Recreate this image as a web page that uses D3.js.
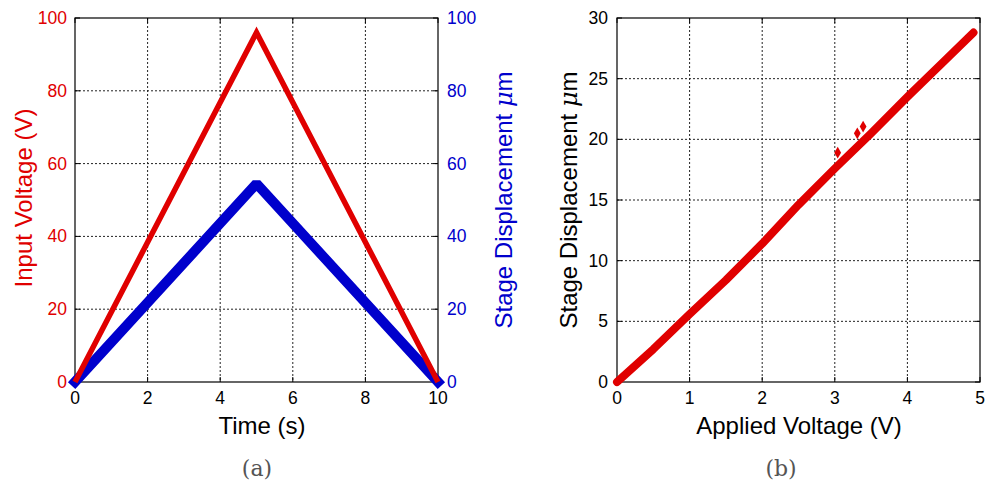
<!DOCTYPE html>
<html>
<head>
<meta charset="utf-8">
<script src="https://cdn.jsdelivr.net/npm/d3@7"></script>
<style>
  body { margin: 0; background: #fff; }
  svg { font-family: "Liberation Sans", Arial, sans-serif; }
</style>
</head>
<body>
<script>
// (a) triangle ramp: time vs input voltage and stage displacement
const time = [0, 5, 10];
const inputVoltage = [0, 96, 0];
const stageDisp = [0, 54.5, 0];
const timeTicks = [0, 2, 4, 6, 8, 10];
const voltTicks = [0, 20, 40, 60, 80, 100];

// (b) applied voltage vs displacement
const appliedV = [0, 0.5, 1, 1.5, 2, 2.5, 3, 3.5, 4, 4.5, 4.91];
const dispUm = [0, 2.7, 5.6, 8.4, 11.4, 14.6, 17.6, 20.5, 23.5, 26.4, 28.8];
const outlierV = [3.04, 3.31, 3.39];
const outlierD = [18.9, 20.5, 21.05];
const appliedTicks = [0, 1, 2, 3, 4, 5];
const dispTicks = [0, 5, 10, 15, 20, 25, 30];

const red = '#e00000';
const blue = '#0000cc';
const serif = '"DejaVu Serif", "Liberation Serif", serif';

const svg = d3.select('body').append('svg')
    .attr('width', 987)
    .attr('height', 488);

const plotTop = 18, plotBottom = 382;

// helper: frame, dotted grid and inward ticks
function drawFrame(g, x, y, xTicks, yTicks) {
    const [x0, x1] = x.range();
    g.selectAll('.vgrid').data(xTicks.slice(1, -1)).enter().append('line')
        .attr('x1', d => x(d)).attr('x2', d => x(d))
        .attr('y1', plotTop).attr('y2', plotBottom)
        .attr('stroke', '#222').attr('stroke-width', 1).attr('stroke-dasharray', '2,2');
    g.selectAll('.hgrid').data(yTicks.slice(1, -1)).enter().append('line')
        .attr('x1', x0).attr('x2', x1)
        .attr('y1', d => y(d)).attr('y2', d => y(d))
        .attr('stroke', '#222').attr('stroke-width', 1).attr('stroke-dasharray', '2,2');
    // inward ticks on all four sides
    xTicks.forEach(t => {
        g.append('line').attr('x1', x(t)).attr('x2', x(t)).attr('y1', plotBottom).attr('y2', plotBottom - 5).attr('stroke', '#000');
        g.append('line').attr('x1', x(t)).attr('x2', x(t)).attr('y1', plotTop).attr('y2', plotTop + 5).attr('stroke', '#000');
    });
    yTicks.forEach(t => {
        g.append('line').attr('x1', x0).attr('x2', x0 + 5).attr('y1', y(t)).attr('y2', y(t)).attr('stroke', '#000');
        g.append('line').attr('x1', x1).attr('x2', x1 - 5).attr('y1', y(t)).attr('y2', y(t)).attr('stroke', '#000');
    });
    g.append('rect')
        .attr('x', x0).attr('y', plotTop)
        .attr('width', x1 - x0).attr('height', plotBottom - plotTop)
        .attr('fill', 'none').attr('stroke', '#000').attr('stroke-width', 1.2);
    // x tick labels
    g.selectAll('.xlab').data(xTicks).enter().append('text')
        .attr('x', d => x(d)).attr('y', plotBottom + 22)
        .attr('text-anchor', 'middle').attr('font-size', 17.5)
        .text(d => d);
}

// ---------- panel (a) ----------
const ax = d3.scaleLinear().domain([0, 10]).range([75, 438]);
const ay = d3.scaleLinear().domain([0, 100]).range([plotBottom, plotTop]);
const ga = svg.append('g');
drawFrame(ga, ax, ay, timeTicks, voltTicks);

const lineA = (vals) => d3.line().x((d, i) => ax(time[i])).y(d => ay(d))(vals);

ga.append('path')
    .attr('d', lineA(stageDisp))
    .attr('fill', 'none').attr('stroke', blue)
    .attr('stroke-width', 10).attr('stroke-linejoin', 'bevel').attr('stroke-linecap', 'square');
ga.append('path')
    .attr('d', lineA(inputVoltage))
    .attr('fill', 'none').attr('stroke', red)
    .attr('stroke-width', 5.5).attr('stroke-linejoin', 'miter').attr('stroke-linecap', 'butt');

// left axis labels (red), right axis labels (blue)
ga.selectAll('.ly').data(voltTicks).enter().append('text')
    .attr('x', 67).attr('y', d => ay(d) + 6)
    .attr('text-anchor', 'end').attr('font-size', 17.5).attr('fill', red)
    .text(d => d);
ga.selectAll('.ry').data(voltTicks).enter().append('text')
    .attr('x', 447).attr('y', d => ay(d) + 6)
    .attr('text-anchor', 'start').attr('font-size', 17.5).attr('fill', blue)
    .text(d => d);

ga.append('text')
    .attr('x', 262).attr('y', 434)
    .attr('text-anchor', 'middle').attr('font-size', 24)
    .text('Time (s)');
ga.append('text')
    .attr('transform', 'translate(32,198) rotate(-90)')
    .attr('text-anchor', 'middle').attr('font-size', 24).attr('fill', red)
    .text('Input Voltage (V)');
const rlab = ga.append('text')
    .attr('transform', 'translate(512,200) rotate(-90)')
    .attr('text-anchor', 'middle').attr('font-size', 24).attr('fill', blue);
rlab.append('tspan').text('Stage Displacement ');
rlab.append('tspan').attr('font-family', serif).attr('font-style', 'italic').text('μ');
rlab.append('tspan').text('m');

// ---------- panel (b) ----------
const bx = d3.scaleLinear().domain([0, 5]).range([617, 980]);
const by = d3.scaleLinear().domain([0, 30]).range([plotBottom, plotTop]);
const gb = svg.append('g');
drawFrame(gb, bx, by, appliedTicks, dispTicks);

gb.append('path')
    .attr('d', d3.line().x((d, i) => bx(appliedV[i])).y(d => by(d))(dispUm))
    .attr('fill', 'none').attr('stroke', red)
    .attr('stroke-width', 8).attr('stroke-linejoin', 'round').attr('stroke-linecap', 'round');

gb.selectAll('.outlier').data(outlierD).enter().append('path')
    .attr('d', d3.symbol(d3.symbolDiamond, 40))
    .attr('transform', (d, i) => `translate(${bx(outlierV[i])},${by(d)})`)
    .attr('fill', red);

gb.selectAll('.ly').data(dispTicks).enter().append('text')
    .attr('x', 608).attr('y', d => by(d) + 6)
    .attr('text-anchor', 'end').attr('font-size', 17.5)
    .text(d => d);

gb.append('text')
    .attr('x', 799).attr('y', 434)
    .attr('text-anchor', 'middle').attr('font-size', 24)
    .text('Applied Voltage (V)');
const blab = gb.append('text')
    .attr('transform', 'translate(577,200) rotate(-90)')
    .attr('text-anchor', 'middle').attr('font-size', 24);
blab.append('tspan').text('Stage Displacement ');
blab.append('tspan').attr('font-family', serif).attr('font-style', 'italic').text('μ');
blab.append('tspan').text('m');

// captions
svg.append('text')
    .attr('x', 257).attr('y', 476)
    .attr('text-anchor', 'middle').attr('font-size', 22)
    .attr('font-family', serif).attr('fill', '#555')
    .text('(a)');
svg.append('text')
    .attr('x', 781).attr('y', 476)
    .attr('text-anchor', 'middle').attr('font-size', 22)
    .attr('font-family', serif).attr('fill', '#555')
    .text('(b)');
</script>
</body>
</html>
